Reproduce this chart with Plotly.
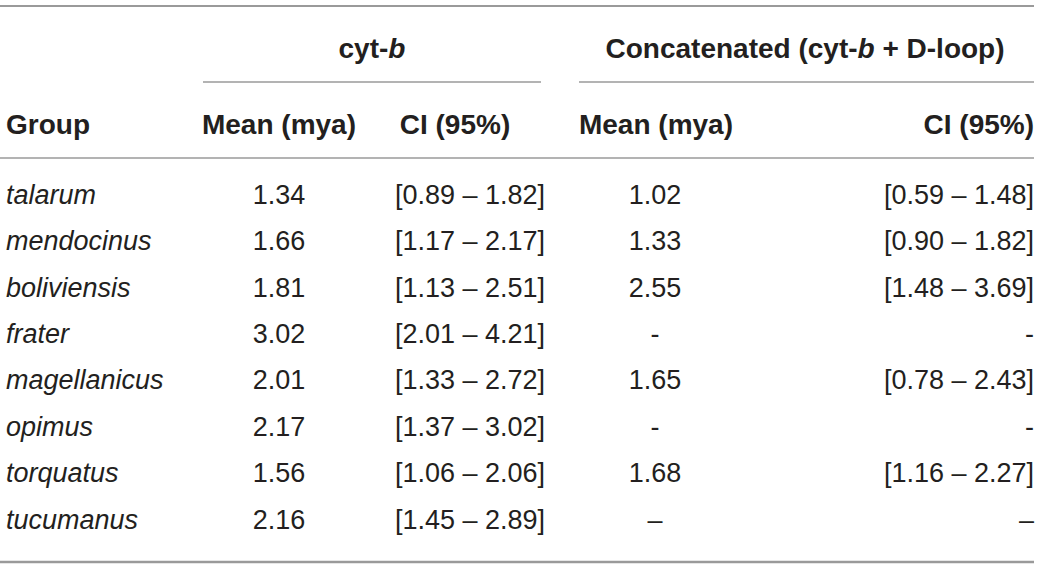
"""
Divergence time table (cyt-b and concatenated cyt-b + D-loop) drawn with Plotly.
"""

import plotly.graph_objects as go

# Table data
groups = ['talarum', 'mendocinus', 'boliviensis', 'frater',
          'magellanicus', 'opimus', 'torquatus', 'tucumanus']
cytb_mean = ['1.34', '1.66', '1.81', '3.02', '2.01', '2.17', '1.56', '2.16']
cytb_ci = ['[0.89 – 1.82]', '[1.17 – 2.17]', '[1.13 – 2.51]', '[2.01 – 4.21]',
           '[1.33 – 2.72]', '[1.37 – 3.02]', '[1.06 – 2.06]', '[1.45 – 2.89]']
concat_mean = ['1.02', '1.33', '2.55', '-', '1.65', '-', '1.68', '–']
concat_ci = ['[0.59 – 1.48]', '[0.90 – 1.82]', '[1.48 – 3.69]', '-',
             '[0.78 – 2.43]', '-', '[1.16 – 2.27]', '–']

group_headers = ['cyt-<i>b</i>', 'Concatenated (cyt-<i>b</i> + D-loop)']
col_headers = ['Group', 'Mean (mya)', 'CI (95%)', 'Mean (mya)', 'CI (95%)']

# Layout (pixel units on hidden axes)
W, H = 1040, 567
TEXT = '#231f20'
RULE = '#9a9a9a'
FONT = 'Liberation Sans, Arial, sans-serif'
FS_BODY = 27
FS_HEAD = 28

row_y = [197 + i * 46.4 for i in range(len(groups))]
header_y = 127
group_header_y = 51

fig = go.Figure()


def add_text(xs, ys, texts, pos, size=FS_BODY):
    fig.add_trace(go.Scatter(
        x=xs, y=ys, text=texts, mode='text', textposition=pos,
        textfont=dict(family=FONT, size=size, color=TEXT),
        hoverinfo='skip', showlegend=False, cliponaxis=False
    ))


# Body columns
n = len(groups)
add_text([6] * n, row_y, [f'<i>{g}</i>' for g in groups], 'middle right')
add_text([279] * n, row_y, cytb_mean, 'middle center')
add_text([545] * n, row_y, cytb_ci, 'middle left')
add_text([655] * n, row_y, concat_mean, 'middle center')
add_text([1034] * n, row_y, concat_ci, 'middle left')

# Column headers
add_text([6], [header_y], [f'<b>{col_headers[0]}</b>'], 'middle right', FS_HEAD)
add_text([279, 455, 656], [header_y] * 3,
         [f'<b>{c}</b>' for c in col_headers[1:4]], 'middle center', FS_HEAD)
add_text([1034], [header_y], [f'<b>{col_headers[4]}</b>'], 'middle left', FS_HEAD)

# Spanning headers
add_text([372], [group_header_y], [f'<b>{group_headers[0]}</b>'], 'middle center', FS_HEAD)
add_text([805], [group_header_y], [f'<b>{group_headers[1]}</b>'], 'middle center', FS_HEAD)

# Rules
rules = [
    (0, 1034, 6, 2),
    (203, 541, 82, 1.3),
    (579, 1034, 82, 1.3),
    (0, 1034, 158, 1.3),
    (0, 1034, 562, 2.5),
]
for x0, x1, y, w in rules:
    fig.add_shape(type='line', x0=x0, x1=x1, y0=y, y1=y,
                  line=dict(color=RULE, width=w), layer='below')

fig.update_layout(
    width=W, height=H,
    margin=dict(l=0, r=0, t=0, b=0),
    paper_bgcolor='white', plot_bgcolor='white',
    xaxis=dict(range=[0, W], visible=False, fixedrange=True),
    yaxis=dict(range=[H, 0], visible=False, fixedrange=True),
    showlegend=False
)

# drop the default page margin so the figure fills the window exactly
fig.write_html("out.html", config={'displayModeBar': False},
               post_script="document.body.style.margin='0';"
                           "document.body.style.overflow='hidden';")
